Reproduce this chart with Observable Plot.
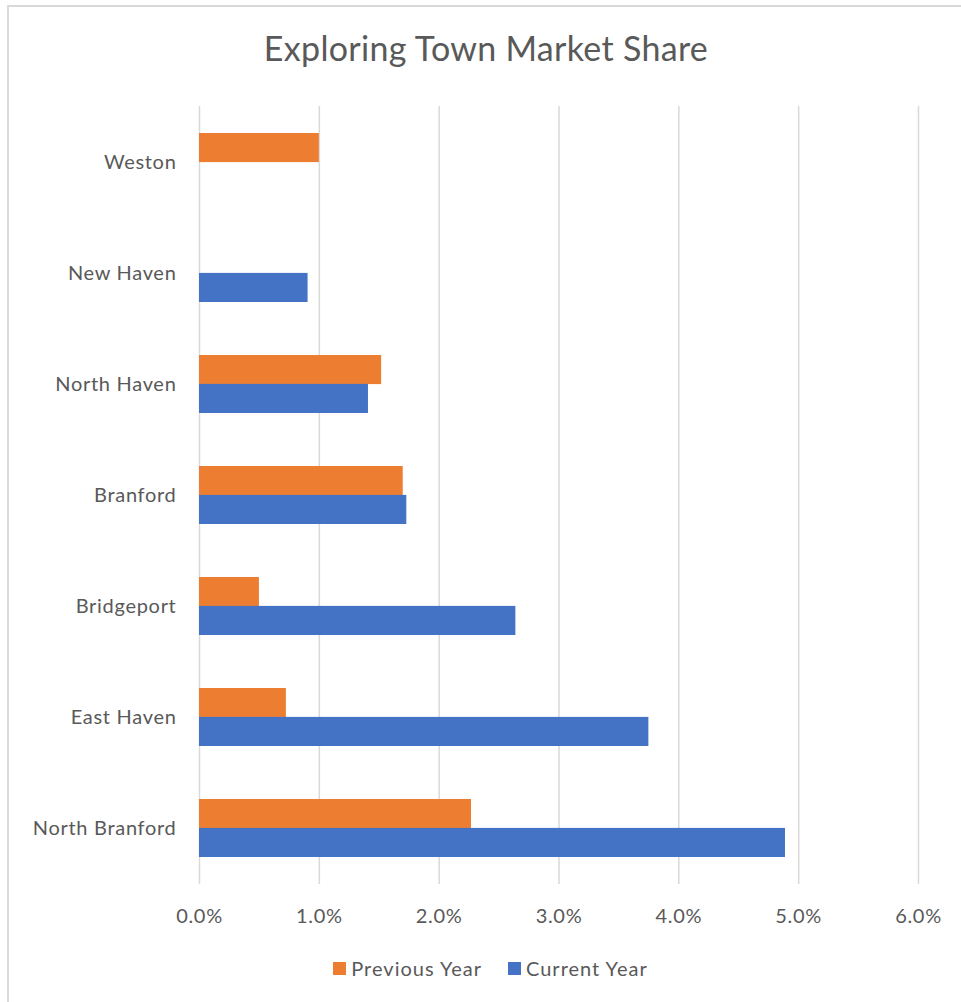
<!DOCTYPE html>
<html>
<head>
<meta charset="utf-8">
<script src="https://cdn.jsdelivr.net/npm/d3@7"></script>
<script src="https://cdn.jsdelivr.net/npm/@observablehq/plot@0.6"></script>
<style>
  html, body { margin: 0; padding: 0; background: #fff; }
  #wrap { position: relative; width: 961px; height: 1002px; overflow: hidden; font-family: Lato, "Open Sans", sans-serif; color: #595959; }
  #frame { position: absolute; left: 7px; top: 5px; width: 1100px; height: 1100px; border-left: 2px solid #d9d9d9; border-top: 2px solid #d9d9d9; box-sizing: border-box; }
  #title { position: relative; height: 90px; box-sizing: border-box; padding-top: 31px; padding-left: 8px; width: 964px; text-align: center; font-size: 34px; line-height: 1; letter-spacing: 0.3px; }
  #chart { position: relative; }
  #legend { position: relative; display: flex; justify-content: center; align-items: center; gap: 26px; width: 981px; margin-top: 16px; font-size: 20px; letter-spacing: 1px; }
  .item { display: flex; align-items: center; gap: 5px; }
  .sw { width: 13px; height: 13px; display: inline-block; }
</style>
</head>
<body>
<div id="wrap">
  <div id="frame"></div>
  <div id="title">Exploring Town Market Share</div>
  <div id="chart"></div>
  <div id="legend"></div>
</div>
<script>
const towns = ["Weston", "New Haven", "North Haven", "Branford", "Bridgeport", "East Haven", "North Branford"];
const previousYear = [0.0100, 0, 0.0152, 0.0170, 0.0050, 0.00725, 0.0227];
const currentYear = [0, 0.00906, 0.0141, 0.0173, 0.0264, 0.0375, 0.0489];
const seriesNames = ["Previous Year", "Current Year"];
const seriesColors = ["#ED7D31", "#4472C4"];
const xTicks = [0, 0.01, 0.02, 0.03, 0.04, 0.05, 0.06];

const prevData = towns.map((t, i) => ({town: t, series: seriesNames[0], value: previousYear[i]})).filter(d => d.value > 0);
const currData = towns.map((t, i) => ({town: t, series: seriesNames[1], value: currentYear[i]})).filter(d => d.value > 0);

const W = 961, H = 850;
const mTop = 16, mBottom = 56, mLeft = 199, mRight = 43;
const padInner = 0.48;
const step = (H - mTop - mBottom) / towns.length;
const half = step * (1 - padInner) / 2;

const chart = Plot.plot({
  width: W,
  height: H,
  marginTop: mTop,
  marginBottom: mBottom,
  marginLeft: mLeft,
  marginRight: mRight,
  style: {fontFamily: "Lato, 'Open Sans', sans-serif", fontSize: "20px", color: "#595959", background: "transparent", letterSpacing: "0.7px"},
  x: {domain: [0, 0.06], ticks: xTicks, tickFormat: d3.format(".1%"), tickSize: 0, tickPadding: 24, label: null},
  y: {domain: towns, paddingInner: padInner, paddingOuter: padInner / 2, tickSize: 0, tickPadding: 23, label: null},
  color: {domain: seriesNames, range: seriesColors},
  marks: [
    Plot.ruleX(xTicks, {stroke: "#d9d9d9", strokeWidth: 1.5}),
    Plot.barX(prevData, {x: "value", y: "town", fill: "series", insetBottom: half}),
    Plot.barX(currData, {x: "value", y: "town", fill: "series", insetTop: half})
  ]
});
document.getElementById("chart").appendChild(chart);

const legend = document.getElementById("legend");
seriesNames.forEach((s, i) => {
  const item = document.createElement("div");
  item.className = "item";
  const sw = document.createElement("span");
  sw.className = "sw";
  sw.style.background = seriesColors[i];
  const lab = document.createElement("span");
  lab.textContent = s;
  item.appendChild(sw);
  item.appendChild(lab);
  legend.appendChild(item);
});
</script>
</body>
</html>
